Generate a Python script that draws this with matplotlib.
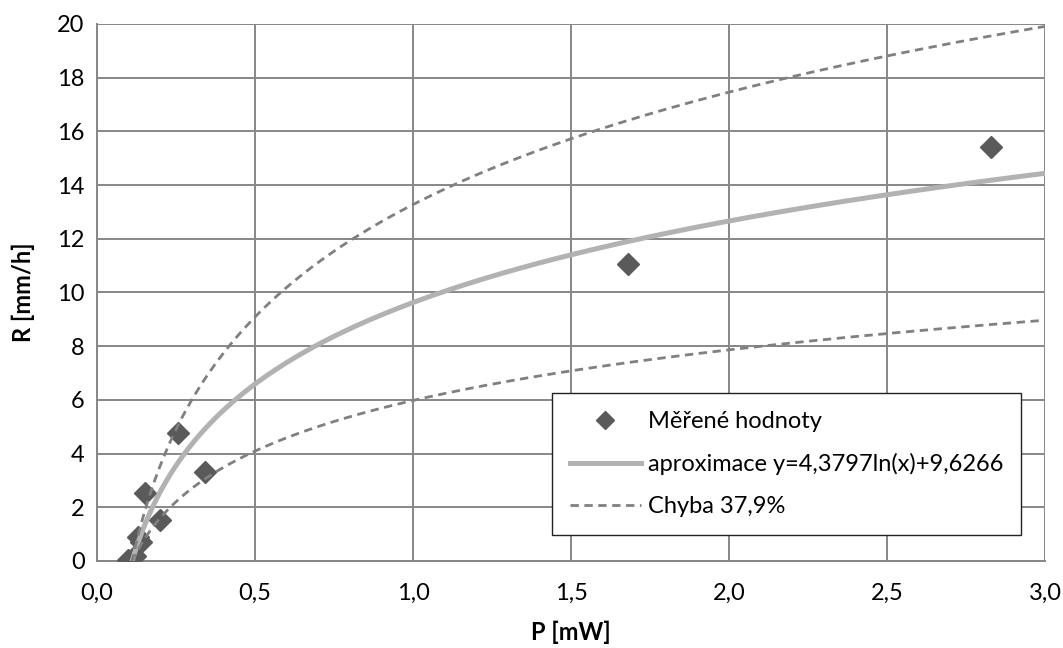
import numpy as np
import matplotlib
matplotlib.use("Agg")
import matplotlib.pyplot as plt

plt.rcParams['font.family'] = ['Lato', 'DejaVu Sans']

# measured points
p_mw = [0.098, 0.12, 0.13, 0.14, 0.152, 0.20, 0.256, 0.342, 1.68, 2.83]
r_mmh = [0.04, 0.2, 0.9, 0.7, 2.53, 1.53, 4.77, 3.3, 11.05, 15.4]

# trend line y = a*ln(x) + b and error band
fit_a = 4.3797
fit_b = 9.6266
err = 0.379
x_start = 0.11
x_end = 3.0

x_ticks = [0.0, 0.5, 1.0, 1.5, 2.0, 2.5, 3.0]
x_labels = ["0,0", "0,5", "1,0", "1,5", "2,0", "2,5", "3,0"]
y_ticks = list(range(0, 21, 2))

xs = np.linspace(x_start, x_end, 400)
fit = fit_a * np.log(xs) + fit_b

fig = plt.figure(figsize=(10.63, 6.48), dpi=100)
ax = fig.add_axes([0.0913, 0.1343, 0.8918, 0.8287])

grid_c = "#878787"
ax.set_axisbelow(True)
ax.grid(True, color=grid_c, linewidth=1.4)
for side in ["top", "right"]:
    ax.spines[side].set_visible(False)
for side in ["left", "bottom"]:
    ax.spines[side].set_color(grid_c)
    ax.spines[side].set_linewidth(1.4)

ax.plot(p_mw, r_mmh, linestyle="none", marker="D", markersize=11,
        color="#5a5a5a", label="Měřené hodnoty", zorder=3)
ax.plot(xs, fit, color="#b2b2b2", linewidth=3.6,
        label="aproximace y=4,3797ln(x)+9,6266", zorder=4)
ax.plot(xs, fit * (1 + err), color="#808080", linewidth=2.0,
        linestyle=(0, (3, 2)), label="Chyba 37,9%", zorder=4)
ax.plot(xs, fit * (1 - err), color="#808080", linewidth=2.0,
        linestyle=(0, (3, 2)), zorder=4)

ax.set_xlim(0, 3.0)
ax.set_ylim(0, 20)
ax.set_xticks(x_ticks)
ax.set_xticklabels(x_labels)
ax.set_yticks(y_ticks)
ax.tick_params(length=0, labelsize=17)
ax.tick_params(axis="x", pad=16)
ax.tick_params(axis="y", pad=9)

ax.set_xlabel("P [mW]", fontsize=17, fontweight="bold", labelpad=12)
ax.set_ylabel("R [mm/h]", fontsize=17, fontweight="bold", labelpad=16)

leg = ax.legend(loc="lower left", bbox_to_anchor=(0.48, 0.048), fontsize=17,
                borderaxespad=0, frameon=True, fancybox=False, framealpha=1,
                edgecolor="#222222", handlelength=3.0, handletextpad=0.3,
                borderpad=0.75, labelspacing=0.9, markerscale=0.8)
leg.get_frame().set_linewidth(1.0)

fig.savefig("out.png", dpi=100, facecolor="white")
